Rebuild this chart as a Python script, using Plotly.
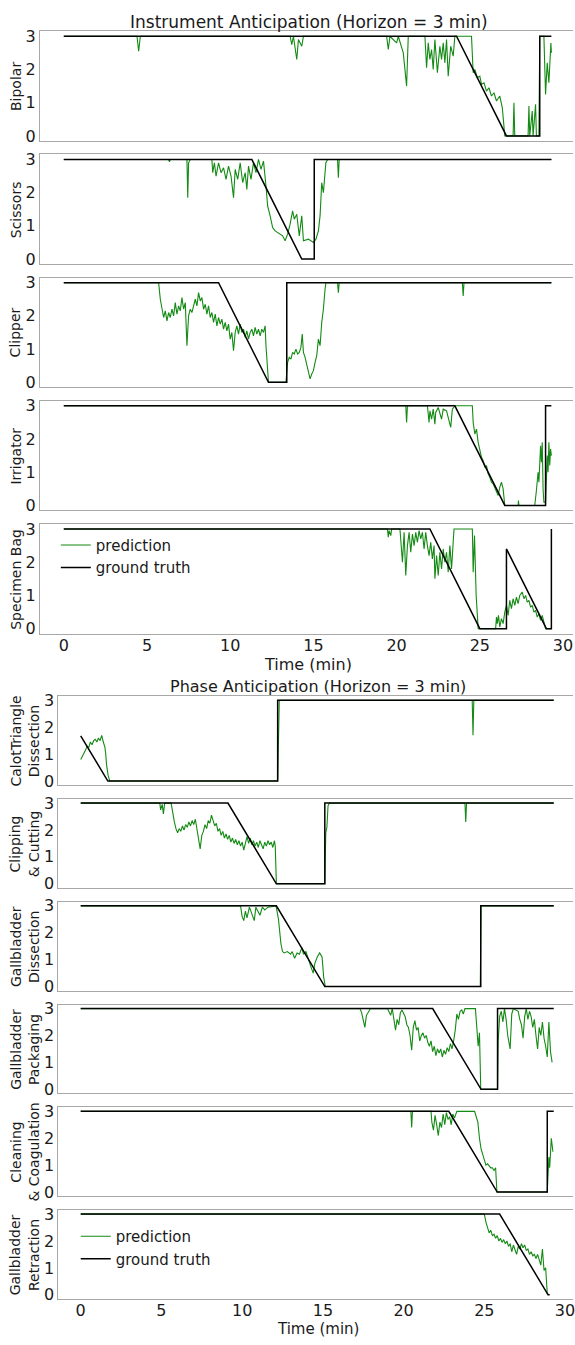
import plotly.graph_objects as go

W, H = 575, 1345

# ------------------------------------------------------------------
# DATA  (time in minutes, value = anticipated remaining minutes, 0..3)
# ------------------------------------------------------------------
time_ticks = [0, 5, 10, 15, 20, 25, 30]
value_ticks = [0, 1, 2, 3]

instrument_names = ["Bipolar", "Scissors", "Clipper", "Irrigator", "Specimen Bag"]
phase_names = ["CalotTriangle<br>Dissection", "Clipping<br>& Cutting",
               "Gallbladder<br>Dissection", "Gallbladder<br>Packaging",
               "Cleaning<br>& Coagulation", "Gallbladder<br>Retraction"]

# ---- Instrument anticipation: ground truth ----
bipolar_gt_t = [0, 23.6, 26.6, 28.6, 28.6, 29.3]
bipolar_gt_v = [3, 3, 0, 0, 3, 3]
scissors_gt_t = [0, 11.3, 14.3, 15.05, 15.05, 29.3]
scissors_gt_v = [3, 3, 0, 0, 3, 3]
clipper_gt_t = [0, 9.3, 12.3, 13.4, 13.4, 29.3]
clipper_gt_v = [3, 3, 0, 0, 3, 3]
irrigator_gt_t = [0, 23.5, 26.5, 28.95, 28.95, 29.3]
irrigator_gt_v = [3, 3, 0, 0, 3, 3]
specimen_gt_t = [0, 22.0, 25.0, 26.6, 26.6, 29.0, 29.3, 29.3]
specimen_gt_v = [3, 3, 0, 0, 2.4, 0, 0, 3]

# ---- Instrument anticipation: predictions (t, value) ----
bipolar_pred = [
    (0, 3), (4.4, 3), (4.5, 2.55), (4.6, 3),
    (13.6, 3), (13.7, 2.75), (13.8, 3), (14.0, 2.3), (14.1, 2.9), (14.3, 2.7), (14.4, 3),
    (19.4, 3), (19.5, 2.6), (19.6, 3), (20.0, 2.8), (20.1, 3), (20.4, 2.5), (20.6, 1.5), (20.7, 3),
    (21.7, 3), (21.8, 2.05), (21.9, 2.8), (22.0, 2.3), (22.1, 2.6), (22.2, 2.0), (22.3, 2.9),
    (22.45, 1.9), (22.6, 2.7), (22.7, 2.3), (22.8, 2.8), (22.9, 2.2), (23.0, 2.9), (23.1, 1.8),
    (23.25, 2.7), (23.4, 2.4), (23.5, 3),
    (24.5, 3), (24.6, 1.9), (24.7, 2.0), (24.85, 1.75), (25.0, 1.8), (25.1, 1.55), (25.25, 1.6),
    (25.4, 1.35), (25.55, 1.45), (25.7, 1.2), (25.85, 1.3), (26.0, 1.05), (26.2, 1.2), (26.35, 0.85),
    (26.5, 0), (27.0, 0), (27.05, 1.0), (27.1, 0), (27.9, 0), (27.95, 0.9), (28.0, 0),
    (28.15, 0.75), (28.2, 0), (28.35, 0.95), (28.4, 0), (28.55, 0), (28.6, 3), (28.85, 3),
    (28.95, 1.25), (29.05, 2.2), (29.15, 1.6), (29.22, 2.6), (29.27, 2.8), (29.3, 2.5)]
scissors_pred = [
    (0, 3), (6.3, 3), (6.35, 2.93), (6.4, 3), (7.4, 3), (7.45, 1.85), (7.5, 2.9), (7.6, 3),
    (8.9, 3), (8.95, 2.6), (9.05, 2.9), (9.15, 2.5), (9.3, 2.9), (9.45, 2.6), (9.6, 2.75),
    (9.75, 2.4), (9.9, 2.8), (10.05, 2.5), (10.2, 1.85), (10.3, 2.7), (10.45, 2.4), (10.6, 2.9),
    (10.75, 2.3), (10.9, 2.6), (11.0, 2.1), (11.1, 2.8), (11.25, 2.4), (11.4, 2.9), (11.55, 2.6),
    (11.7, 3.0), (11.85, 2.7), (12.0, 2.95), (12.15, 2.2), (12.25, 1.6), (12.4, 1.3), (12.55, 0.95),
    (12.7, 0.85), (12.85, 0.8), (13.0, 0.75), (13.15, 0.7), (13.3, 0.55), (13.45, 0.75), (13.6, 1.05),
    (13.75, 1.45), (13.85, 1.2), (14.0, 1.35), (14.15, 0.7), (14.3, 1.3), (14.4, 0.55), (14.7, 0.6),
    (15.0, 0.5), (15.15, 0.6), (15.3, 0.85), (15.4, 1.3), (15.5, 2.3), (15.6, 2.0), (15.75, 2.9),
    (15.85, 3), (16.45, 3), (16.5, 2.45), (16.55, 3), (29.3, 3)]
clipper_pred = [
    (0, 3), (5.7, 3), (5.8, 2.5), (5.9, 2.2), (6.0, 1.95), (6.1, 2.15), (6.2, 1.85), (6.3, 2.1),
    (6.4, 1.95), (6.5, 2.2), (6.6, 2.0), (6.7, 2.4), (6.8, 2.05), (6.9, 2.3), (7.0, 2.15),
    (7.1, 2.55), (7.2, 2.2), (7.3, 2.4), (7.4, 1.1), (7.5, 2.0), (7.6, 2.2), (7.7, 2.1), (7.8, 2.35),
    (7.9, 2.5), (8.0, 2.3), (8.1, 2.7), (8.2, 2.45), (8.3, 2.55), (8.4, 2.2), (8.5, 2.35), (8.6, 2.05),
    (8.7, 2.3), (8.8, 1.95), (8.9, 2.1), (9.0, 1.8), (9.1, 2.05), (9.2, 1.7), (9.3, 1.95), (9.4, 1.75),
    (9.5, 1.9), (9.6, 1.6), (9.7, 1.8), (9.8, 1.55), (9.9, 1.75), (10.0, 1.3), (10.1, 1.5),
    (10.2, 0.95), (10.3, 1.5), (10.4, 1.7), (10.5, 1.45), (10.6, 1.75), (10.7, 1.5), (10.8, 1.6),
    (10.9, 1.35), (11.0, 1.55), (11.1, 1.3), (11.2, 1.5), (11.3, 1.6), (11.4, 1.4), (11.5, 1.65),
    (11.6, 1.45), (11.7, 1.6), (11.8, 1.4), (11.9, 1.6), (12.0, 1.5), (12.1, 1.7), (12.15, 1.1),
    (12.25, 0.3), (12.3, 0), (13.35, 0), (13.45, 0.6), (13.55, 0.75), (13.65, 0.7), (13.75, 0.9),
    (13.85, 0.85), (13.95, 1.0), (14.05, 0.85), (14.15, 0.9), (14.25, 1.05), (14.33, 1.45),
    (14.4, 0.9), (14.5, 0.75), (14.6, 0.55), (14.7, 0.3), (14.8, 0.1), (14.9, 0.25), (15.0, 0.35),
    (15.1, 0.6), (15.2, 0.8), (15.3, 1.3), (15.4, 1.1), (15.5, 1.8), (15.6, 2.2), (15.7, 2.8),
    (15.75, 3), (16.45, 3), (16.5, 2.7), (16.55, 3), (23.95, 3), (24.0, 2.6), (24.05, 3), (29.3, 3)]
irrigator_pred = [
    (0, 3), (20.55, 3), (20.6, 2.5), (20.65, 3), (21.85, 3), (21.9, 2.8), (21.95, 2.5), (22.0, 2.85),
    (22.1, 2.6), (22.2, 2.9), (22.3, 2.45), (22.35, 2.8), (22.5, 2.95), (22.7, 2.6), (22.8, 2.9),
    (23.0, 2.85), (23.25, 2.35), (23.35, 2.9), (23.5, 3), (24.55, 3), (24.6, 2.5), (24.7, 2.15),
    (24.8, 2.3), (24.9, 1.9), (25.0, 1.7), (25.1, 1.45), (25.2, 1.35), (25.3, 1.15), (25.4, 1.2),
    (25.5, 0.95), (25.6, 0.85), (25.7, 0.7), (25.8, 0.65), (25.9, 0.55), (26.0, 0.4), (26.1, 0.3),
    (26.2, 0.55), (26.3, 0.7), (26.4, 0.5), (26.5, 0), (27.3, 0), (27.32, 0.15), (27.35, 0),
    (28.3, 0), (28.4, 0.45), (28.5, 1.0), (28.55, 0.7), (28.65, 1.8), (28.7, 1.3), (28.75, 1.9),
    (28.8, 0.5), (28.85, 0.1), (28.95, 0.1), (29.05, 1.5), (29.1, 1.0), (29.15, 1.9), (29.2, 1.2),
    (29.25, 1.7), (29.3, 1.5)]
specimen_pred = [
    (0, 3), (19.45, 3), (19.5, 2.75), (19.55, 2.95), (19.65, 2.8), (19.7, 3), (20.2, 3), (20.3, 2.45),
    (20.35, 2.0), (20.45, 2.9), (20.55, 1.6), (20.65, 2.5), (20.75, 2.9), (20.85, 2.3), (20.95, 2.85),
    (21.05, 2.5), (21.15, 2.9), (21.25, 2.6), (21.35, 2.95), (21.45, 2.7), (21.55, 2.9), (21.65, 2.4),
    (21.75, 2.9), (21.85, 2.5), (21.95, 2.2), (22.05, 2.6), (22.15, 2.1), (22.25, 2.5), (22.3, 1.5),
    (22.4, 2.2), (22.5, 1.6), (22.6, 2.3), (22.7, 1.8), (22.8, 2.4), (22.9, 2.0), (23.0, 2.3),
    (23.1, 1.7), (23.2, 2.5), (23.3, 1.8), (23.4, 2.6), (23.45, 3), (24.55, 3), (24.6, 1.7),
    (24.68, 2.8), (24.78, 1.0), (24.9, 0), (25.95, 0), (26.0, 0.35), (26.05, 0.15), (26.12, 0.4),
    (26.2, 0.05), (26.3, 0.3), (26.4, 0.15), (26.5, 0.5), (26.6, 0.7), (26.7, 0.4), (26.8, 0.85),
    (26.9, 0.6), (27.0, 0.9), (27.1, 0.7), (27.2, 0.95), (27.3, 0.75), (27.4, 1.0), (27.55, 1.1),
    (27.65, 0.9), (27.75, 1.0), (27.85, 0.8), (27.95, 0.85), (28.05, 0.65), (28.15, 0.7),
    (28.25, 0.5), (28.35, 0.55), (28.45, 0.35), (28.55, 0.45), (28.65, 0.25), (28.75, 0.4),
    (28.85, 0.15), (28.95, 0), (29.3, 0)]

# ---- Phase anticipation: ground truth ----
calot_gt_t = [0, 1.68, 12.2, 12.2, 29.3]
calot_gt_v = [1.68, 0, 0, 3, 3]
clipping_gt_t = [0, 9.12, 12.12, 15.12, 15.12, 29.3]
clipping_gt_v = [3, 3, 0, 0, 3, 3]
gdissection_gt_t = [0, 12.12, 15.12, 24.78, 24.78, 29.3]
gdissection_gt_v = [3, 3, 0, 0, 3, 3]
packaging_gt_t = [0, 21.8, 24.8, 25.82, 25.82, 29.3]
packaging_gt_v = [3, 3, 0, 0, 3, 3]
cleaning_gt_t = [0, 22.8, 25.8, 28.9, 28.9, 29.3]
cleaning_gt_v = [3, 3, 0, 0, 3, 3]
retraction_gt_t = [0, 25.95, 28.95, 29.05]
retraction_gt_v = [3, 3, 0, 0]

# ---- Phase anticipation: predictions (t, value) ----
calot_pred = [
    (0, 0.8), (0.1, 0.9), (0.2, 1.0), (0.3, 1.15), (0.4, 1.3), (0.5, 1.25), (0.6, 1.45), (0.7, 1.35),
    (0.8, 1.5), (0.9, 1.55), (1.0, 1.45), (1.1, 1.6), (1.2, 1.5), (1.3, 1.7), (1.4, 1.45), (1.5, 1.25),
    (1.55, 1.0), (1.6, 0.6), (1.7, 0.2), (1.8, 0), (12.2, 0), (12.25, 1.5), (12.3, 3),
    (24.25, 3), (24.3, 1.7), (24.35, 3), (29.3, 3)]
clipping_pred = [
    (0, 3), (4.9, 3), (4.95, 2.75), (5.05, 2.95), (5.12, 2.6), (5.2, 3), (5.6, 3), (5.7, 2.6),
    (5.8, 2.3), (5.9, 2.05), (6.0, 1.9), (6.1, 2.05), (6.2, 1.95), (6.3, 2.15), (6.4, 2.0), (6.5, 2.2),
    (6.6, 2.1), (6.7, 2.3), (6.8, 2.15), (6.9, 2.35), (7.0, 2.2), (7.1, 2.4), (7.2, 2.0), (7.3, 1.6),
    (7.4, 1.3), (7.5, 1.8), (7.6, 1.95), (7.7, 2.2), (7.8, 2.05), (7.9, 2.35), (8.0, 2.25), (8.1, 2.55),
    (8.2, 2.3), (8.3, 2.15), (8.4, 2.25), (8.5, 1.95), (8.6, 2.05), (8.7, 1.8), (8.8, 1.95), (8.9, 1.7),
    (9.0, 1.85), (9.1, 1.65), (9.2, 1.8), (9.3, 1.55), (9.4, 1.7), (9.5, 1.5), (9.6, 1.65), (9.7, 1.45),
    (9.8, 1.6), (9.9, 1.4), (10.0, 1.55), (10.1, 1.25), (10.2, 1.5), (10.3, 1.75), (10.4, 1.5),
    (10.5, 1.7), (10.6, 1.45), (10.7, 1.6), (10.8, 1.4), (10.9, 1.55), (11.0, 1.35), (11.1, 1.6),
    (11.2, 1.45), (11.3, 1.3), (11.4, 1.55), (11.5, 1.4), (11.6, 1.6), (11.7, 1.45), (11.8, 1.55),
    (11.9, 1.35), (12.0, 1.6), (12.05, 1.4), (12.12, 0), (15.12, 0), (15.18, 1.9), (15.25, 2.1),
    (15.32, 2.9), (15.4, 3), (23.8, 3), (23.85, 2.3), (23.9, 3), (29.3, 3)]
gdissection_pred = [
    (0, 3), (9.9, 3), (10.0, 2.6), (10.1, 2.45), (10.2, 2.8), (10.3, 2.55), (10.45, 2.95), (10.6, 2.7),
    (10.75, 2.45), (10.85, 2.95), (11.0, 2.8), (11.1, 2.65), (11.25, 2.95), (11.4, 2.85), (11.6, 2.95),
    (12.1, 3), (12.25, 2.5), (12.4, 1.6), (12.5, 1.3), (12.6, 1.25), (12.8, 1.3), (13.0, 1.2),
    (13.1, 1.3), (13.25, 1.05), (13.4, 1.25), (13.55, 1.2), (13.7, 1.45), (13.8, 1.2), (13.95, 1.3),
    (14.1, 1.0), (14.25, 0.75), (14.4, 0.5), (14.5, 0.85), (14.65, 1.1), (14.8, 1.25), (14.95, 1.1),
    (15.05, 0.35), (15.15, 0), (24.75, 0), (24.8, 3), (29.3, 3)]
packaging_pred = [
    (0, 3), (17.3, 3), (17.4, 2.85), (17.5, 2.6), (17.6, 2.3), (17.7, 2.75), (17.85, 2.9), (17.95, 3),
    (19.0, 3), (19.1, 2.85), (19.2, 2.75), (19.3, 3), (19.4, 2.5), (19.5, 2.2), (19.6, 2.6), (19.7, 2.4),
    (19.8, 2.85), (19.9, 2.95), (20.1, 2.7), (20.2, 2.4), (20.3, 2.3), (20.4, 2.0), (20.5, 1.45),
    (20.6, 2.3), (20.7, 2.55), (20.8, 2.2), (20.9, 2.3), (21.0, 1.8), (21.1, 2.0), (21.2, 2.1),
    (21.3, 1.9), (21.4, 2.0), (21.5, 1.75), (21.6, 1.6), (21.7, 1.8), (21.8, 1.4), (21.9, 1.6),
    (22.0, 1.25), (22.1, 1.5), (22.2, 1.35), (22.3, 1.5), (22.4, 1.2), (22.5, 1.45), (22.6, 1.3),
    (22.7, 1.55), (22.8, 1.4), (22.9, 1.7), (23.0, 1.5), (23.1, 1.8), (23.2, 2.2), (23.3, 2.8),
    (23.4, 2.6), (23.5, 2.9), (23.6, 2.95), (23.7, 2.8), (23.8, 3), (24.45, 3), (24.55, 2.3),
    (24.62, 1.6), (24.7, 2.1), (24.78, 0), (25.82, 0), (25.86, 1.8), (25.95, 2.7), (26.05, 2.9),
    (26.15, 2.5), (26.25, 3), (26.35, 2.6), (26.45, 2.0), (26.6, 1.5), (26.7, 2.8), (26.8, 3),
    (27.1, 2.9), (27.2, 2.6), (27.3, 2.4), (27.4, 1.9), (27.5, 2.7), (27.6, 3), (27.7, 2.6),
    (27.8, 2.9), (27.9, 2.7), (28.0, 2.3), (28.1, 2.6), (28.2, 2.0), (28.3, 1.5), (28.4, 2.3),
    (28.5, 2.0), (28.6, 2.5), (28.7, 1.9), (28.8, 1.6), (28.9, 1.2), (29.0, 2.5), (29.1, 1.4),
    (29.2, 1.0)]
cleaning_pred = [
    (0, 3), (20.45, 3), (20.5, 2.4), (20.55, 3), (21.7, 3), (21.75, 2.6), (21.85, 2.3), (21.95, 2.85),
    (22.05, 2.5), (22.15, 2.1), (22.25, 2.6), (22.35, 2.4), (22.45, 2.9), (22.55, 2.5), (22.65, 2.95),
    (22.75, 2.7), (22.85, 2.8), (22.95, 2.5), (23.05, 2.9), (23.15, 2.75), (23.3, 3), (24.4, 3),
    (24.5, 2.8), (24.6, 2.6), (24.7, 2.0), (24.8, 1.6), (24.9, 1.4), (25.0, 1.2), (25.1, 1.0),
    (25.2, 1.05), (25.3, 0.95), (25.4, 0.9), (25.5, 0.9), (25.6, 0.8), (25.7, 0.9), (25.78, 0),
    (28.9, 0), (28.95, 1.0), (29.0, 1.3), (29.05, 0.9), (29.15, 2.0), (29.25, 1.5)]
retraction_pred = [
    (0, 3), (25.0, 3), (25.1, 2.7), (25.2, 2.5), (25.3, 2.3), (25.4, 2.4), (25.5, 2.2), (25.6, 2.25),
    (25.7, 2.1), (25.8, 2.2), (25.9, 2.0), (26.0, 2.1), (26.1, 1.95), (26.2, 2.05), (26.3, 1.9),
    (26.4, 2.0), (26.5, 1.8), (26.6, 1.9), (26.7, 1.6), (26.8, 1.85), (26.9, 1.7), (27.0, 1.5),
    (27.1, 1.8), (27.2, 1.7), (27.3, 1.9), (27.4, 1.75), (27.5, 1.85), (27.6, 1.65), (27.7, 1.7),
    (27.8, 1.5), (27.9, 1.6), (28.0, 1.45), (28.1, 1.5), (28.2, 1.35), (28.3, 1.5), (28.4, 1.3),
    (28.5, 1.1), (28.6, 1.7), (28.7, 0.9), (28.8, 1.0), (28.9, 0.05), (29.0, 0)]

instrument_gt = [(bipolar_gt_t, bipolar_gt_v), (scissors_gt_t, scissors_gt_v),
                 (clipper_gt_t, clipper_gt_v), (irrigator_gt_t, irrigator_gt_v),
                 (specimen_gt_t, specimen_gt_v)]
instrument_pred = [bipolar_pred, scissors_pred, clipper_pred, irrigator_pred, specimen_pred]
phase_gt = [(calot_gt_t, calot_gt_v), (clipping_gt_t, clipping_gt_v),
            (gdissection_gt_t, gdissection_gt_v), (packaging_gt_t, packaging_gt_v),
            (cleaning_gt_t, cleaning_gt_v), (retraction_gt_t, retraction_gt_v)]
phase_pred = [calot_pred, clipping_pred, gdissection_pred, packaging_pred,
              cleaning_pred, retraction_pred]

# ------------------------------------------------------------------
# LAYOUT / STYLE
# ------------------------------------------------------------------
FONT = "DejaVu Sans"
TXT = "#1a1a1a"
GREEN = "#138a13"
SPINE = "#a8a8a8"

groups = [
    dict(names=instrument_names, gt=instrument_gt, pred=instrument_pred,
         left=40, x0=64, pxmin=16.7, top0=26.5, step=124.2, h=110.5,
         legend="legend", lab_x=16),
    dict(names=phase_names, gt=phase_gt, pred=phase_pred,
         left=58.5, x0=81, pxmin=16.2, top0=697, step=103.6, h=89.5,
         legend="legend2", lab_x=25),
]

fig = go.Figure()
layout = dict(width=W, height=H, margin=dict(l=0, r=0, t=0, b=0),
              plot_bgcolor="white", paper_bgcolor="white",
              font=dict(family=FONT, size=16, color=TXT), annotations=[])

k = 0
for g in groups:
    n = len(g["names"])
    for i in range(n):
        k += 1
        sfx = "" if k == 1 else str(k)
        top = g["top0"] + i * g["step"]
        bot = top + g["h"]
        last = (i == n - 1)
        xr = [(g["left"] - g["x0"]) / g["pxmin"], (W - g["x0"]) / g["pxmin"]]
        layout["xaxis" + sfx] = dict(
            domain=[g["left"] / W, 1.0], range=xr, anchor="y" + sfx,
            showline=True, linecolor=SPINE, linewidth=1, mirror=True,
            showgrid=False, zeroline=False, ticks="",
            tickvals=time_ticks, showticklabels=last, ticklabeloverflow="allow",
            ticklabelstandoff=-3, tickfont=dict(size=16, color=TXT))
        layout["yaxis" + sfx] = dict(
            domain=[1 - bot / H, 1 - top / H], range=[-0.15, 3.15], anchor="x" + sfx,
            showline=True, linecolor=SPINE, linewidth=1,
            showgrid=False, zeroline=False, ticks="",
            tickvals=value_ticks, tickfont=dict(size=16, color=TXT))
        pred = g["pred"][i]
        gt_t, gt_v = g["gt"][i]
        fig.add_trace(go.Scatter(
            x=[p[0] for p in pred], y=[p[1] for p in pred], mode="lines",
            line=dict(color=GREEN, width=1.1), name="prediction",
            xaxis="x" + sfx, yaxis="y" + sfx, showlegend=last, legend=g["legend"]))
        fig.add_trace(go.Scatter(
            x=gt_t, y=gt_v, mode="lines", line=dict(color="black", width=1.5),
            name="ground truth", xaxis="x" + sfx, yaxis="y" + sfx,
            showlegend=last, legend=g["legend"]))
        layout["annotations"].append(dict(
            text=g["names"][i], x=g["lab_x"] / W, y=1 - (top + bot) / 2 / H,
            xref="paper", yref="paper", textangle=-90, showarrow=False,
            xanchor="center", yanchor="middle", font=dict(size=14, color=TXT)))

titles = [("Instrument Anticipation (Horizon = 3 min)", 310, 17, 17),
          ("Time (min)", 309, 665, 16),
          ("Phase Anticipation (Horizon = 3 min)", 319, 687, 16),
          ("Time (min)", 319, 1335, 15)]
for txt, xc, yc, fs in titles:
    layout["annotations"].append(dict(
        text=txt, x=xc / W, y=1 - yc / H, xref="paper", yref="paper",
        showarrow=False, xanchor="center", yanchor="middle",
        font=dict(size=fs, color=TXT)))

legend_style = dict(xanchor="left", yanchor="top", bgcolor="rgba(0,0,0,0)",
                    font=dict(size=15, color=TXT), tracegroupgap=0, itemwidth=30)
layout["legend"] = dict(x=56 / W, y=1 - 528 / H, **legend_style)
layout["legend2"] = dict(x=76 / W, y=1 - 1225 / H, **legend_style)

fig.update_layout(**layout)
fig.write_html("out.html", config={"displayModeBar": False},
               post_script="document.body.style.margin='0';document.body.style.padding='0';")
